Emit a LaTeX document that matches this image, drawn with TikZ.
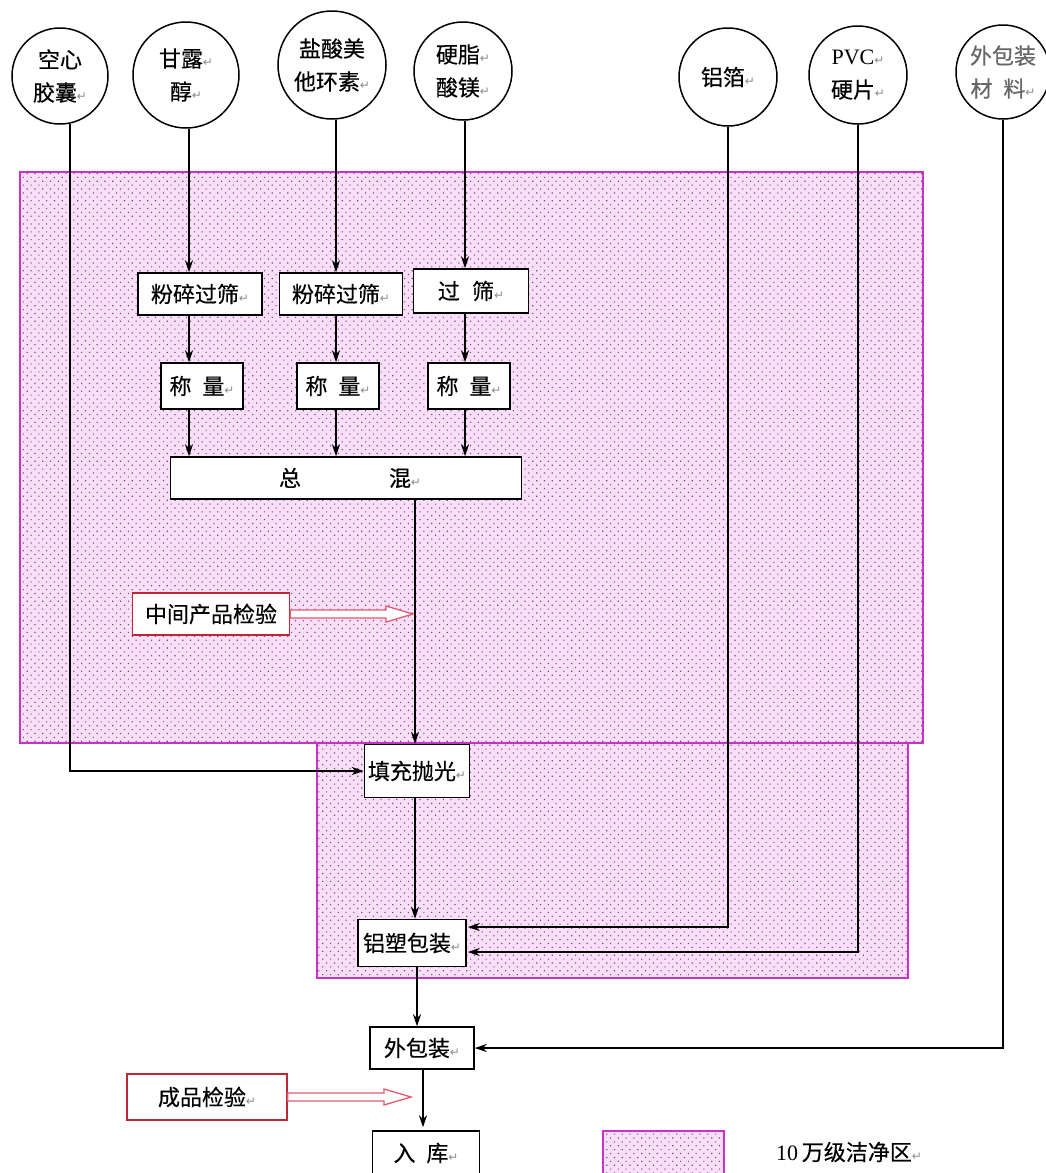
\documentclass[tikz,border=0pt]{standalone}
\usepackage{fontspec}
\setmainfont{Noto Sans CJK SC}[FakeBold=0.4]
\newfontfamily\dvfont{DejaVu Sans}
\newfontfamily\serfont{Liberation Serif}
\usetikzlibrary{arrows.meta,patterns.meta,calc}
\definecolor{zonebg}{RGB}{250,222,250}
\definecolor{zoneline}{RGB}{200,50,200}
\definecolor{dotc}{RGB}{100,80,105}
\definecolor{qcred}{RGB}{190,40,50}
\definecolor{qcarrow}{RGB}{225,90,110}
\newcommand{\pmark}{{\dvfont\fontsize{12}{12}\selectfont\textcolor{black!45}{↵}}}
\begin{document}
\begin{tikzpicture}[x=1pt,y=-1pt,
  font=\fontsize{22}{28}\selectfont,
  zone/.style={draw=zoneline, line width=1.3pt, preaction={fill=zonebg},
    pattern={Dots[distance=5.5pt,radius=0.8pt,angle=45]}, pattern color=dotc},
  src/.style={circle, draw, line width=1.5pt, inner sep=0pt, align=center, fill=white,
    font=\fontsize{22}{33}\selectfont},
  proc/.style={draw, line width=1.5pt, fill=white, inner sep=0pt},
  qcbox/.style={draw=qcred, line width=1.5pt, fill=white, inner sep=0pt},
  arr/.style={line width=1.5pt, -{Stealth[length=12pt,width=8pt]}},
  hollow/.style={draw=qcarrow, line width=1.3pt, fill=white, line join=miter}]
\fill[white] (0,0) rectangle (1045,1173);
\useasboundingbox (0,0) rectangle (1045,1173);

% clean zones
\path[zone] (20,172) rectangle (923,743);
\path[zone] (317,743) rectangle (908,978);
\path[zone] (603,1131) rectangle (724,1185);

% column coordinates
\coordinate (X1) at (189,0);
\coordinate (X2) at (336,0);
\coordinate (X3) at (465,0);
\coordinate (M) at (415,0);
\coordinate (P) at (417,0);
\coordinate (S) at (423,0);

% source circles
\node[src, minimum size=96pt] (c1) at (60,76) {空心\\胶囊\pmark};
\node[src, minimum size=106pt] (c2) at (186,75) {甘露\pmark\\醇\pmark};
\node[src, minimum size=108pt] (c3) at (332,65) {盐酸美\\他环素\pmark};
\node[src, minimum size=98pt] (c4) at (463,71) {硬脂\pmark\\酸镁\pmark};
\node[src, minimum size=98pt] (c5) at (728,77) {铝箔\pmark};
\node[src, minimum size=98pt] (c6) at (858,75) {{\serfont PVC}\pmark\\硬片\pmark};
\node[src, minimum size=94pt, text=black!60] (c7) at (1003,72) {外包装\\材\hspace{0.5em}料\pmark};

% process boxes
\node[proc, minimum width=124pt, minimum height=42pt] (f1) at (200,294) {粉碎过筛\pmark};
\node[proc, minimum width=123pt, minimum height=42pt] (f2) at (341,294) {粉碎过筛\pmark};
\node[proc, minimum width=115pt, minimum height=44pt] (f3) at (471,291) {过\hspace{0.55em}筛\pmark};
\node[proc, minimum width=82pt, minimum height=46pt] (w1) at (202,386) {称\hspace{0.5em}量\pmark};
\node[proc, minimum width=82pt, minimum height=46pt] (w2) at (338,386) {称\hspace{0.5em}量\pmark};
\node[proc, minimum width=82pt, minimum height=46pt] (w3) at (469,386) {称\hspace{0.5em}量\pmark};
\node[proc, minimum width=351pt, minimum height=42pt] (mix) at (346,478) {\hspace{8pt}总\hspace{4em}混\pmark};
\node[qcbox, minimum width=157pt, minimum height=42pt] (mid) at (211,614) {中间产品检验};
\node[proc, minimum width=105pt, minimum height=53pt] (fill) at (417,771) {填充抛光\pmark};
\node[proc, minimum width=108pt, minimum height=47pt] (pack) at (412,943) {铝塑包装\pmark};
\node[proc, minimum width=104pt, minimum height=42pt] (outer) at (422,1048) {外包装\pmark};
\node[qcbox, minimum width=160pt, minimum height=46pt] (qc) at (207,1097) {成品检验\pmark};
\node[proc, minimum width=107pt, minimum height=44pt] (store) at (426,1153) {入\hspace{0.5em}库\pmark};

% legend text
\node[anchor=west, inner sep=0pt] (leg) at (776,1152) {{\serfont 10}\,万级洁净区\pmark};

% material lines
\draw[arr] (c2.south -| X1) -- (f1.north -| X1);
\draw[arr] (c3.south -| X2) -- (f2.north -| X2);
\draw[arr] (c4.south -| X3) -- (f3.north -| X3);
\draw[arr] (f1.south -| X1) -- (w1.north -| X1);
\draw[arr] (f2.south -| X2) -- (w2.north -| X2);
\draw[arr] (f3.south -| X3) -- (w3.north -| X3);
\draw[arr] (w1.south -| X1) -- (mix.north -| X1);
\draw[arr] (w2.south -| X2) -- (mix.north -| X2);
\draw[arr] (w3.south -| X3) -- (mix.north -| X3);

% main flow
\draw[arr] (mix.south -| M) -- (fill.north -| M);
\draw[arr] (fill.south -| M) -- (pack.north -| M);
\draw[arr] (pack.south -| P) -- (outer.north -| P);
\draw[arr] (outer.south -| S) -- ($(store.north -| S)+(0,-3)$);

% side feeds
\draw[arr] (c1.-78) |- (fill.west);
\draw[arr] (c5.south) |- ($(pack.east)+(1,-16)$);
\draw[arr] (c6.south) |- ($(pack.east)+(1,9)$);
\draw[arr] (c7.south) |- (outer.east);

% inspection hollow arrows
\coordinate (t1) at ($(mid.east -| M)+(-2,0)$);
\filldraw[hollow] ($(mid.east)+(0,-4)$) -- ($(t1)+(-27,-4)$) -- ($(t1)+(-27,-8)$) -- (t1)
  -- ($(t1)+(-27,8)$) -- ($(t1)+(-27,4)$) -- ($(mid.east)+(0,4)$) -- cycle;
\coordinate (t2) at ($(qc.east -| S)+(-12,0)$);
\filldraw[hollow] ($(qc.east)+(0,-4)$) -- ($(t2)+(-27,-4)$) -- ($(t2)+(-27,-8)$) -- (t2)
  -- ($(t2)+(-27,8)$) -- ($(t2)+(-27,4)$) -- ($(qc.east)+(0,4)$) -- cycle;
\end{tikzpicture}
\end{document}
